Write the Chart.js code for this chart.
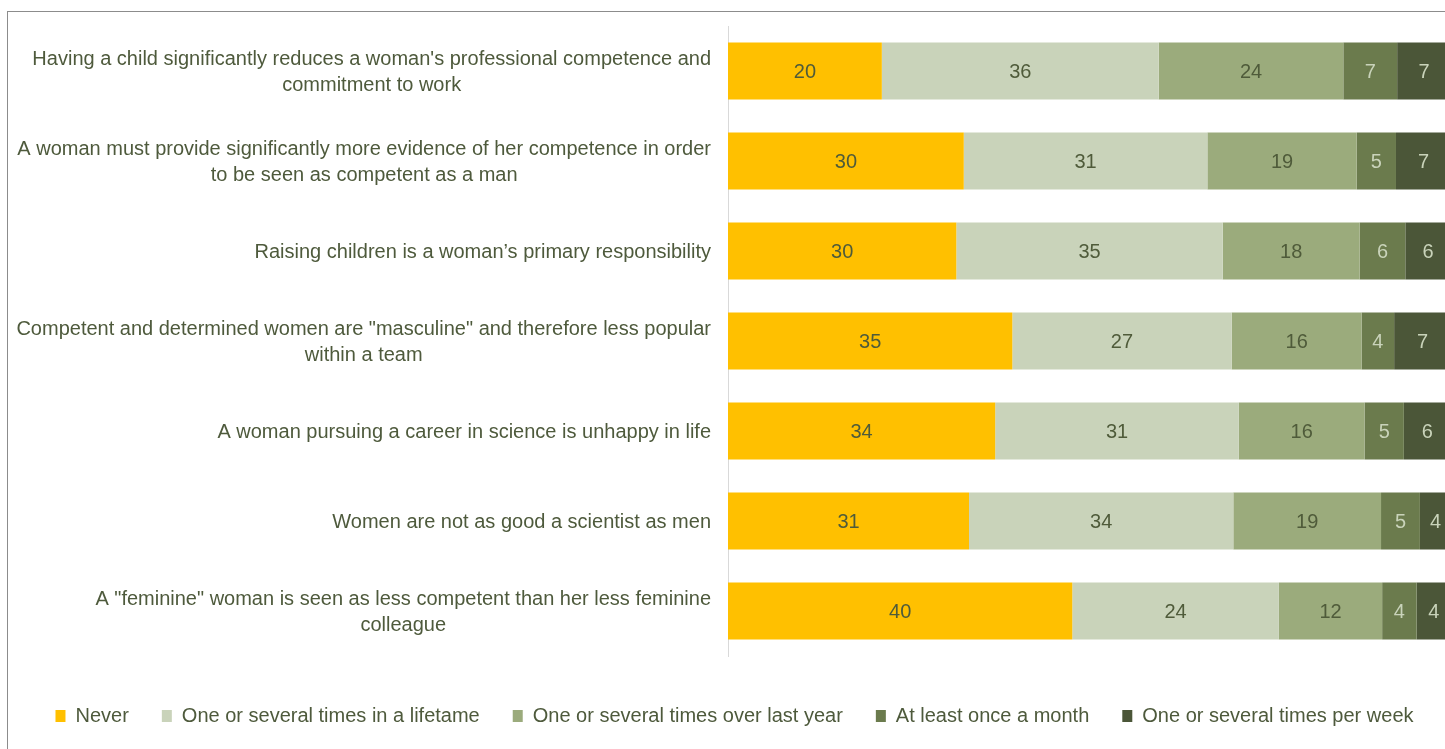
<!DOCTYPE html>
<html>
<head>
<meta charset="utf-8">
<script src="https://cdn.jsdelivr.net/npm/chart.js@4.4.1/dist/chart.umd.min.js"></script>
<style>
  html, body { margin: 0; padding: 0; background: #fff; overflow: hidden; width: 1445px; height: 749px; }
  #frame { position: absolute; left: 7px; top: 11px; width: 3000px; height: 3000px; border-left: 1px solid #8c8c8c; border-top: 1px solid #8c8c8c; }
  #c { position: absolute; left: 0; top: 0; }
</style>
</head>
<body>
<div id="frame"></div>
<canvas id="c" width="1460" height="736"></canvas>
<script>
const categories = [
  ["Having a child significantly reduces a woman's professional competence and", "commitment to work"],
  ["A woman must provide significantly more evidence of her competence in order", "to be seen as competent as a man"],
  ["Raising children is a woman\u2019s primary responsibility"],
  ["Competent and determined women are \"masculine\" and therefore less popular", "within a team"],
  ["A woman pursuing a career in science is unhappy in life"],
  ["Women are not as good a scientist as men"],
  ["A \"feminine\" woman is seen as less competent than her less feminine ", "colleague"]
];
const seriesNames = ["Never", "One or several times in a lifetame", "One or several times over last year", "At least once a month", "One or several times per week"];
const never     = [20, 30, 30, 35, 34, 31, 40];
const lifetime  = [36, 31, 35, 27, 31, 34, 24];
const lastYear  = [24, 19, 18, 16, 16, 19, 12];
const monthly   = [7, 5, 6, 4, 5, 5, 4];
const weekly    = [7, 7, 6, 7, 6, 4, 4];

const series = [never, lifetime, lastYear, monthly, weekly];
const colors = ["#FFC000", "#C9D3BA", "#9BAB7C", "#6B7B4D", "#4B5638"];
const labelColors = ["#4F5B3A", "#4F5B3A", "#4F5B3A", "#C9D3BA", "#C9D3BA"];
const textColor = "#4E5A3C";
const FONT = "'Liberation Sans', Arial, sans-serif";

// 100% stacked: each row fills the plot width
const totals = categories.map((_, i) => series.reduce((s, arr) => s + arr[i], 0));

const datasets = series.map((arr, j) => ({
  label: seriesNames[j],
  raw: arr,
  data: arr.map((v, i) => v / totals[i] * 100),
  backgroundColor: colors[j],
  borderWidth: 0,
  barPercentage: 0.633,
  categoryPercentage: 1.0
}));

const valueLabels = {
  id: 'valueLabels',
  afterDatasetsDraw(chart) {
    const ctx = chart.ctx;
    ctx.save();
    ctx.font = "20px " + FONT;
    ctx.textAlign = 'center';
    ctx.textBaseline = 'middle';
    chart.data.datasets.forEach((ds, j) => {
      const meta = chart.getDatasetMeta(j);
      meta.data.forEach((el, i) => {
        const x = (el.x + el.base) / 2;
        ctx.fillStyle = labelColors[j];
        ctx.fillText(String(ds.raw[i]), x, el.y + 1);
      });
    });
    ctx.restore();
  }
};

const catLabels = {
  id: 'catLabels',
  afterDraw(chart) {
    const ctx = chart.ctx;
    const yScale = chart.scales.y;
    const rightEdge = chart.chartArea.left - 17;
    const lh = 26;
    ctx.save();
    ctx.font = "20px " + FONT;
    ctx.fillStyle = textColor;
    ctx.textBaseline = 'middle';
    ctx.textAlign = 'center';
    categories.forEach((lines, i) => {
      const yc = yScale.getPixelForTick(i);
      const maxW = Math.max(...lines.map(l => ctx.measureText(l.replace(/\s+$/, '')).width));
      const cx = rightEdge - maxW / 2;
      const y0 = yc - (lines.length - 1) * lh / 2;
      lines.forEach((l, k) => {
        ctx.fillText(l.trim(), cx, y0 + k * lh + 1);
      });
    });
    ctx.restore();
  }
};

new Chart(document.getElementById('c'), {
  type: 'bar',
  data: { labels: categories.map(c => c.join(' ')), datasets },
  options: {
    indexAxis: 'y',
    responsive: false,
    animation: false,
    devicePixelRatio: 1,
    layout: { padding: { left: 18, right: 9, top: 26, bottom: 0 } },
    scales: {
      x: {
        stacked: true, min: 0, max: 100,
        ticks: { display: false },
        grid: { display: false },
        border: { display: false },
        afterFit(s) { s.height = 17; }
      },
      y: {
        stacked: true,
        ticks: { display: false },
        grid: { display: false, drawTicks: false },
        border: { display: true, color: '#D9D9D9', width: 1 },
        afterFit(s) { s.width = 710; }
      }
    },
    plugins: {
      tooltip: { enabled: false },
      legend: {
        position: 'bottom',
        labels: {
          boxWidth: 10,
          boxHeight: 12,
          padding: 33,
          color: textColor,
          font: { size: 20, family: FONT }
        }
      }
    }
  },
  plugins: [valueLabels, catLabels]
});
</script>
</body>
</html>
